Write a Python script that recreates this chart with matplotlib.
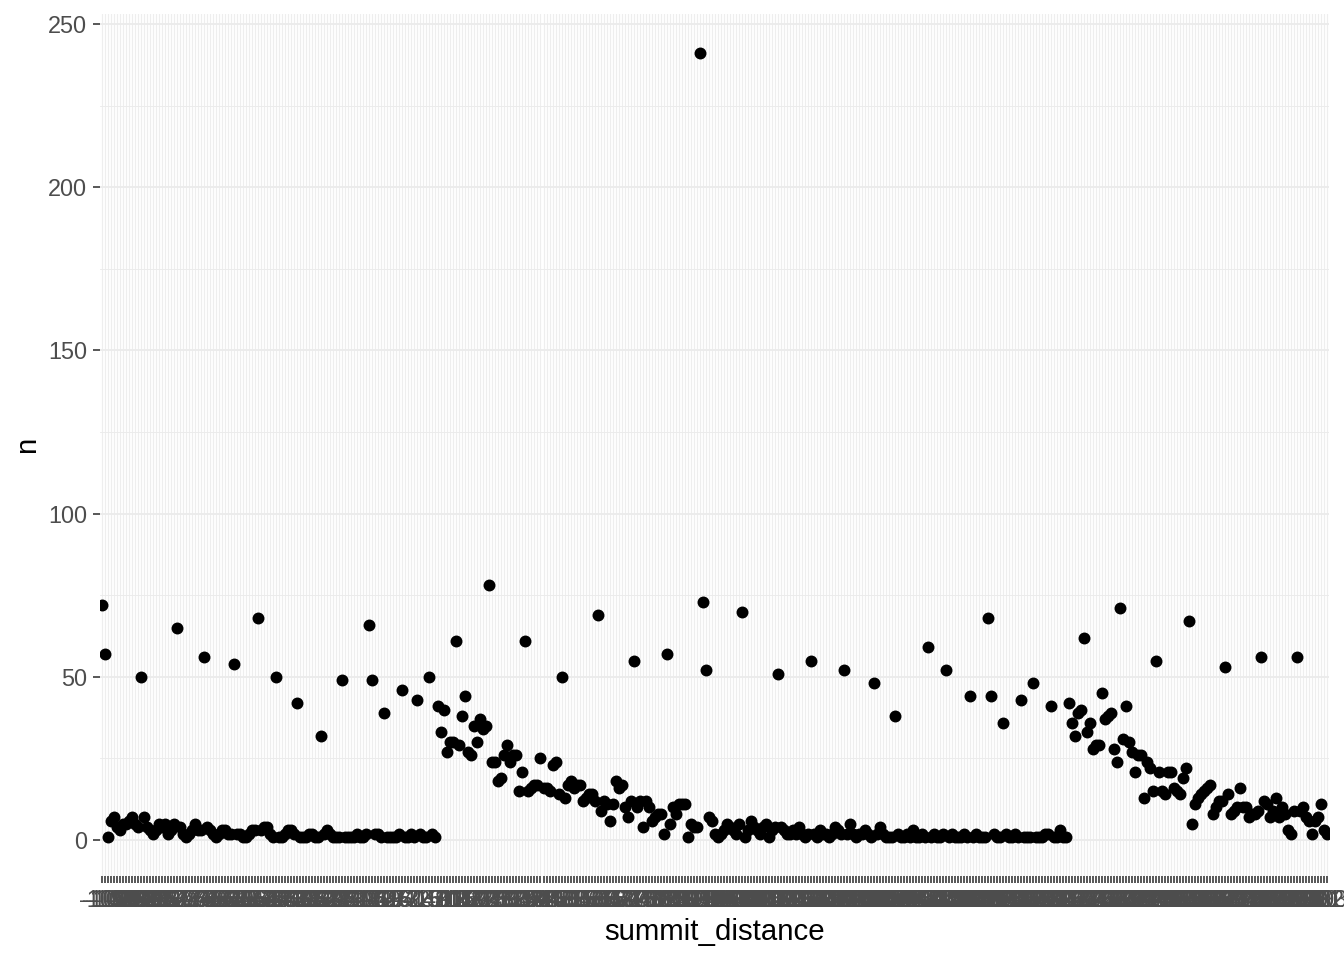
import matplotlib
matplotlib.use('Agg')
import matplotlib.pyplot as plt
from matplotlib.ticker import MultipleLocator

plt.rcParams['font.family'] = ['Liberation Sans', 'DejaVu Sans']

# category labels (unreadable in the reference; numeric distances kept as text)
summit_distance = [str(v) for v in range(-105, 304)]

# counts, one per category
n = [
    72, 57, 1, 6, 7, 4, 3, 5, 5, 6, 7, 5, 4, 50, 7, 4, 3, 2, 3, 5,
    4, 5, 2, 3, 5, 65, 4, 2, 1, 2, 3, 5, 3, 3, 56, 4, 3, 2, 1, 2,
    3, 3, 2, 2, 54, 2, 2, 1, 1, 2, 3, 3, 68, 3, 4, 4, 2, 1, 50, 1,
    1, 2, 3, 3, 2, 42, 1, 1, 1, 2, 2, 1, 1, 32, 2, 3, 2, 1, 1, 1,
    49, 1, 1, 1, 1, 2, 1, 1, 2, 66, 49, 2, 2, 1, 39, 1, 1, 1, 1, 2,
    46, 1, 1, 2, 1, 43, 2, 1, 1, 50, 2, 1, 41, 33, 40, 27, 30, 30, 61, 29,
    38, 44, 27, 26, 35, 30, 37, 34, 35, 78, 24, 24, 18, 19, 26, 29, 24, 26, 26, 15,
    21, 61, 15, 16, 17, 17, 25, 16, 16, 15, 23, 24, 14, 50, 13, 17, 18, 16, 17, 17,
    12, 13, 14, 14, 12, 69, 9, 12, 11, 6, 11, 18, 16, 17, 10, 7, 12, 55, 10, 12,
    4, 12, 10, 6, 7, 8, 8, 2, 57, 5, 10, 8, 11, 11, 11, 1, 5, 4, 4, 241,
    73, 52, 7, 6, 2, 1, 2, 3, 5, 4, 3, 2, 5, 70, 1, 3, 6, 4, 3, 2,
    4, 5, 1, 3, 4, 51, 4, 3, 2, 2, 3, 2, 4, 2, 1, 2, 55, 2, 1, 3,
    2, 2, 1, 2, 4, 3, 2, 52, 2, 5, 2, 1, 2, 2, 3, 2, 1, 48, 2, 4,
    2, 1, 1, 1, 38, 2, 1, 1, 2, 1, 3, 1, 1, 2, 1, 59, 1, 2, 1, 1,
    2, 52, 1, 2, 1, 1, 1, 2, 1, 44, 1, 2, 1, 1, 1, 68, 44, 2, 1, 1,
    36, 2, 1, 1, 2, 1, 43, 1, 1, 1, 48, 1, 1, 1, 2, 2, 41, 1, 1, 3,
    1, 1, 42, 36, 32, 39, 40, 62, 33, 36, 28, 29, 29, 45, 37, 38, 39, 28, 24, 71,
    31, 41, 30, 27, 21, 26, 26, 13, 24, 22, 15, 55, 21, 15, 14, 21, 21, 16, 15, 14,
    19, 22, 67, 5, 11, 13, 14, 15, 16, 17, 8, 10, 12, 12, 53, 14, 8, 9, 10, 16,
    10, 10, 7, 8, 8, 9, 56, 12, 11, 7, 9, 13, 7, 10, 8, 3, 2, 9, 56, 9,
    10, 7, 6, 2, 6, 7, 11, 3, 2,
]

y_ticks = [0, 50, 100, 150, 200, 250]

fig = plt.figure(figsize=(7, 5), dpi=192)
ax = fig.add_axes([0.0746, 0.0875, 0.9143, 0.8977])
ax.set_axisbelow(True)
ax.scatter(summit_distance, n, s=20, c='black', linewidths=0, zorder=3)

ax.set_xlim(-0.6, len(summit_distance) - 1 + 0.6)
lo, hi = min(n), max(n)
pad = 0.05 * (hi - lo)
ax.set_ylim(lo - pad, hi + pad)
ax.set_yticks(y_ticks)
ax.yaxis.set_minor_locator(MultipleLocator(25))

ax.grid(which='major', axis='x', color='#EEEEEE', linewidth=0.45)
ax.grid(which='major', axis='y', color='#EBEBEB', linewidth=0.7)
ax.grid(which='minor', axis='y', color='#EBEBEB', linewidth=0.35)
for s in ax.spines.values():
    s.set_visible(False)

ax.tick_params(axis='both', which='major', length=2.75, width=0.6,
               color='#333333', labelsize=8.8, labelcolor='#4D4D4D', pad=2.2)
ax.tick_params(which='minor', length=0)

ax.set_xlabel('summit_distance', fontsize=11, labelpad=2)
ax.set_ylabel('n', fontsize=11, labelpad=2.5)

fig.savefig('out.png', dpi=192)
